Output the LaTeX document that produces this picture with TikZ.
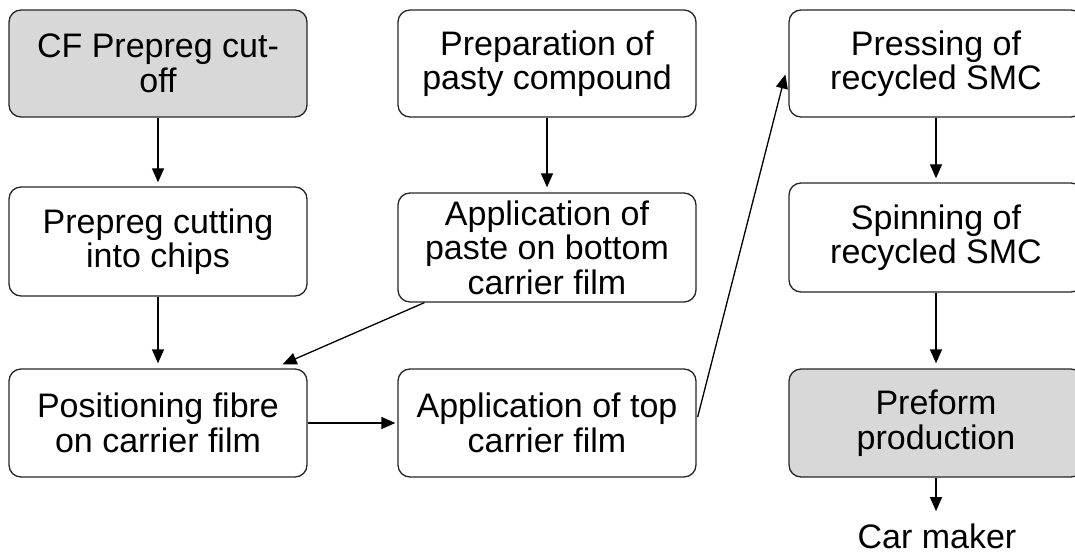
\documentclass[tikz,border=0pt]{standalone}
\usepackage{fontspec}
\setmainfont{Liberation Sans}
\usetikzlibrary{arrows.meta,calc}
\definecolor{boxgray}{HTML}{D8D8D8}
\begin{document}
\begin{tikzpicture}[x=1pt,y=-1pt,
  box/.style={draw=black!85,line width=1.3pt,rounded corners=12pt,
    minimum width=298pt,minimum height=107pt,inner sep=0pt,align=center,
    font=\fontsize{34}{34.5}\selectfont},
  gbox/.style={box,fill=boxgray},
  arr/.style={draw=black,line width=1.3pt,-{Triangle[length=14pt,width=12pt]}},
  lbl/.style={inner sep=0pt,font=\fontsize{34}{34.5}\selectfont}]
\useasboundingbox (0,0) rectangle (1075,556);
% column 1
\node[gbox] (a1) at (158,63.5) {CF Prepreg cut-\\off};
\node[box,minimum height=109pt] (a2) at (158,241.5) {Prepreg cutting\\into chips};
\node[box,minimum height=108pt] (a3) at (158,423) {Positioning fibre\\on carrier film};
% column 2
\node[box] (b1) at (547,63.5) {Preparation of\\pasty compound};
\node[box,minimum height=109pt] (b2) at (547,247.5) {Application of\\paste on bottom\\carrier film};
\node[box,minimum height=108pt] (b3) at (547,423) {Application of top\\carrier film};
% column 3
\node[box,minimum width=294pt] (c1) at (936,63.5) {Pressing of\\recycled SMC};
\node[box,minimum width=294pt,minimum height=109pt] (c2) at (936,237.5) {Spinning of\\recycled SMC};
\node[gbox,minimum width=294pt,minimum height=108pt] (c3) at (936,423) {Preform\\production};
\node[lbl,anchor=base] (car) at (937,548) {Car maker};
% connectors
\draw[arr,shorten >=4pt] (a1) -- (a2);
\draw[arr,shorten >=5pt] (a2) -- (a3);
\draw[arr,shorten >=5pt] (b1) -- (b2);
\draw[arr,shorten >=4pt] (c1) -- (c2);
\draw[arr,shorten >=5pt] (c2) -- (c3);
\draw[arr,shorten >=12pt] (c3.south) -- (car.north -| c3.south);
\draw[arr] ($(b2.south west)+(27,0)$) -- ($(a3.north east)+(-25,-4)$);
\draw[arr,shorten >=2pt] (a3) -- (b3);
\draw[arr] ($(b3.east)+(1,-6)$) -- ($(c1.west)+(-3,11)$);
\end{tikzpicture}
\end{document}
